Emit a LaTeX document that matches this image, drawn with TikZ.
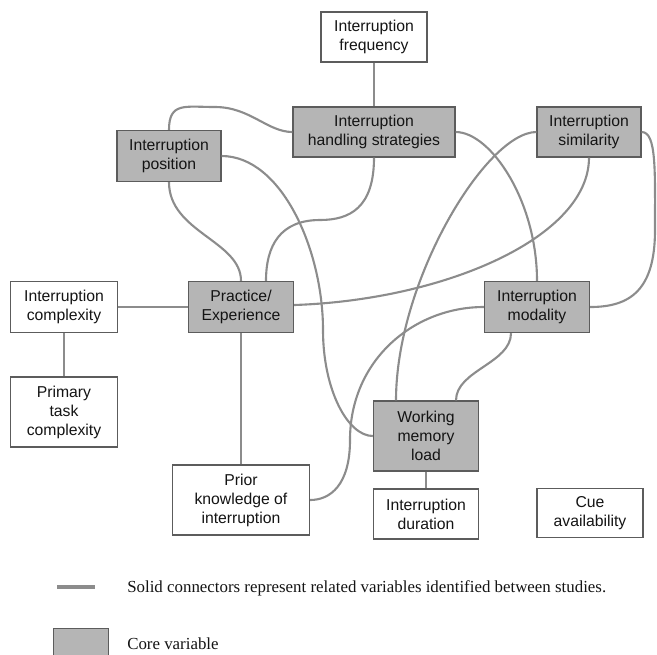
\documentclass[tikz,border=0pt]{standalone}
\usepackage{fontspec}
\setmainfont{Liberation Serif}
\setsansfont{Liberation Sans}
\usetikzlibrary{calc}
\definecolor{corefill}{gray}{0.71}
\definecolor{boxline}{gray}{0.36}
\definecolor{linkgray}{gray}{0.55}
\definecolor{inkgray}{gray}{0.08}

\begin{document}
\begin{tikzpicture}[x=0.025cm, y=-0.025cm,
		var/.style={draw=boxline, line width=0.8pt, fill=white, align=center, inner sep=1pt,
			minimum width=2.63cm, minimum height=1.25cm, text=inkgray,
			font=\sffamily\fontsize{11.2}{13.5}\selectfont},
		core/.style={var, fill=corefill},
		link/.style={draw=linkgray, line width=1.5pt},
		keytext/.style={anchor=west, inner sep=0pt, text=inkgray, font=\rmfamily\fontsize{12}{14}\selectfont}]
	\useasboundingbox (0,0) rectangle (657,654);
	%%%%%%%%%%%%%%%%%%%%%%%%%%%%%%%%
	\node[var, minimum width=2.65cm] (freq) at (374,37) {Interruption\\frequency};
	\node[core, minimum width=4.05cm] (handling) at (374,132) {Interruption\\handling strategies};
	\node[core, minimum width=2.6cm, minimum height=1.28cm] (position) at (169,156) {Interruption\\position};
	\node[core, minimum width=2.6cm] (similarity) at (589,132) {Interruption\\similarity};
	\node[var, minimum width=2.68cm, minimum height=1.28cm] (complexity) at (64,307) {Interruption\\complexity};
	\node[core, minimum height=1.28cm] (practice) at (241,307) {Practice/\\Experience};
	\node[core, minimum height=1.28cm] (modality) at (537,307) {Interruption\\modality};
	\node[var, minimum width=2.68cm, minimum height=1.75cm] (primary) at (64,412) {Primary\\task\\complexity};
	\node[core, minimum height=1.75cm] (memory) at (426,436) {Working\\memory\\load};
	\node[var, minimum width=3.43cm, minimum height=1.75cm] (prior) at (241,500) {Prior\\knowledge of\\interruption};
	\node[var] (duration) at (426,514) {Interruption\\duration};
	\node[var, minimum width=2.65cm, minimum height=1.23cm] (cue) at (590,513) {Cue\\availability};
	%%%%%%%%%%%%%%%%%%%%%%%%%%%%%%%%
	\draw[link] (freq) -- (handling);
	\draw[link] (complexity) -- (practice);
	\draw[link] (complexity) -- (primary);
	\draw[link] (practice) -- (prior);
	\draw[link] (memory) -- (duration);
	%%%%%%%%%%%%%%%%%%%%%%%%%%%%%%%%
	\draw[link] (position.north) .. controls +(0,-28) and +(-30,0) .. (215,107)
		.. controls +(35,0) and +(-25,0) .. (handling.west);
	\draw[link] (position.east) .. controls +(60,0) and +(0,-80) .. (323,330)
		.. controls +(0,60) and +(-25,0) .. (memory.west);
	\draw[link] (position.south) .. controls +(0,50) and +(0,-40) .. (practice.north);
	\draw[link] (handling.south) .. controls +(0,50) and +(30,0) .. (320,220)
		.. controls +(-40,0) and +(0,-35) .. ($(practice.north)+(25,0)$);
	\draw[link] (handling.east) .. controls +(35,0) and +(0,-80) .. (modality.north);
	%%%%%%%%%%%%%%%%%%%%%%%%%%%%%%%%
	\draw[link] (similarity.west) .. controls +(-50,0) and +(0,-120) .. ($(memory.north)+(-30,0)$);
	\draw[link] (similarity.south) .. controls +(0,80) and +(150,-5) .. ($(practice.east)+(0,-2)$);
	\draw[link] (similarity.east) .. controls +(15,0) and +(0,-60) .. (655,230)
		.. controls +(0,60) and +(40,0) .. (modality.east);
	\draw[link] (modality.west) .. controls +(-70,0) and +(0,-80) .. (350,440)
		.. controls +(0,45) and +(20,0) .. (prior.east);
	\draw[link] ($(modality.south)+(-26,0)$) .. controls +(0,30) and +(0,-30) .. ($(memory.north)+(30,0)$);
	%%%%%%%%%%%%%%%%%%%%%%%%%%%%%%%%
	\coordinate (keyA) at (57,587);
	\coordinate (keyB) at (95,587);
	\draw[link, line width=2.2pt] (keyA) -- (keyB);
	\node[keytext] (linkkey) at (127,588) {Solid connectors represent related variables identified between studies.};
	\node[core, minimum width=1.38cm, minimum height=0.8cm, anchor=north west] (corekey) at (53,628) {};
	\node[keytext] (corenote) at (127,644) {Core variable};
\end{tikzpicture}
\end{document}
